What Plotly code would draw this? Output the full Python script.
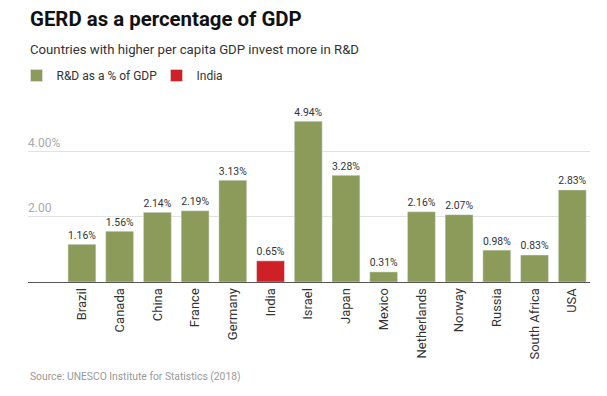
import plotly.graph_objects as go

countries = ["Brazil", "Canada", "China", "France", "Germany", "India", "Israel",
             "Japan", "Mexico", "Netherlands", "Norway", "Russia", "South Africa", "USA"]
values = [1.16, 1.56, 2.14, 2.19, 3.13, 0.65, 4.94, 3.28, 0.31, 2.16, 2.07, 0.98, 0.83, 2.83]
highlight = "India"
green = "#8c9b5a"
red = "#cd2027"

g_x = [c for c in countries if c != highlight]
g_y = [v for c, v in zip(countries, values) if c != highlight]
r_x = [c for c in countries if c == highlight]
r_y = [v for c, v in zip(countries, values) if c == highlight]

W, H = 607, 396
L, R, T, B = 28, 17, 103, 114.3
PH = H - T - B
PW = W - L - R

def py(pix):
    return 1 + (T - pix) / PH

def px(pix):
    return (pix - L) / PW

fig = go.Figure()
fig.add_trace(go.Bar(x=g_x, y=g_y, name="R&D as a % of GDP", marker_color=green,
                     width=0.74, texttemplate="%{y:.2f}%", textposition="outside",
                     textfont=dict(size=12.5, color="#333333"), cliponaxis=False))
fig.add_trace(go.Bar(x=r_x, y=r_y, name="India", marker_color=red,
                     width=0.74, texttemplate="%{y:.2f}%", textposition="outside",
                     textfont=dict(size=12.5, color="#333333"), cliponaxis=False))

fig.update_layout(
    width=W, height=H,
    margin=dict(l=L, r=R, t=T, b=B, pad=0, autoexpand=False),
    paper_bgcolor="white", plot_bgcolor="white",
    font=dict(family="Roboto", color="#333333"),
    barmode="overlay",
    showlegend=True,
    legend=dict(orientation="h", x=px(16.5), xanchor="left", y=py(75.5), yanchor="middle",
                font=dict(size=12, color="#333333"), itemwidth=30,
                entrywidth=95, entrywidthmode="pixels",
                traceorder="normal", bgcolor="rgba(0,0,0,0)"),
    xaxis=dict(type="category", categoryorder="array", categoryarray=countries,
               range=[-1.43, 13.47], tickangle=-90, tickfont=dict(size=13, color="#333333"),
               showgrid=False, showline=True, linecolor="#555555", linewidth=1,
               ticks="", ticklen=0),
    yaxis=dict(range=[0, 5.5], showticklabels=False, showgrid=True, gridcolor="#e2e2e2",
               gridwidth=1, tickvals=[2, 4], zeroline=False, showline=False),
)

fig.add_annotation(text="<b>GERD as a percentage of GDP</b>", xref="paper", yref="paper",
                   x=0, y=py(19), xanchor="left", yanchor="middle",
                   showarrow=False, font=dict(size=20.4, color="#111111"))
fig.add_annotation(text="Countries with higher per capita GDP invest more in R&D", xref="paper",
                   yref="paper", x=0, y=py(50), xanchor="left",
                   yanchor="middle", showarrow=False, font=dict(size=13.2, color="#333333"))
for v, lab in [(2, "2.00"), (4, "4.00%")]:
    fig.add_annotation(text=lab, xref="paper", yref="y", x=0, y=v, xanchor="left",
                       yanchor="bottom", showarrow=False, xshift=-2,
                       font=dict(size=12, color="#aaaaaa"))
fig.add_annotation(text="Source: UNESCO Institute for Statistics (2018)", xref="paper",
                   yref="paper", x=0, y=py(376), xanchor="left",
                   yanchor="middle", showarrow=False, font=dict(size=10.3, color="#999999"))

fig.write_html("out.html", config={"displayModeBar": False})

with open("out.html", "r", encoding="utf-8") as f:
    html = f.read()
html = html.replace("<head>", "<head><style>html,body{margin:0;padding:0;}</style>", 1)
with open("out.html", "w", encoding="utf-8") as f:
    f.write(html)
